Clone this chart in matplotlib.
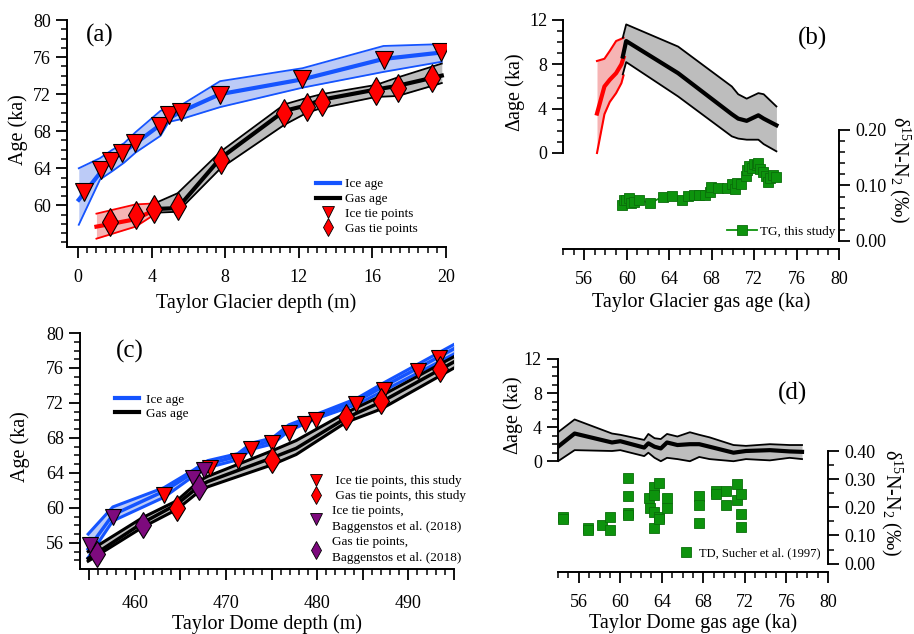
import numpy as np
import matplotlib
matplotlib.use('Agg')
import matplotlib.pyplot as plt
from matplotlib.lines import Line2D

plt.rcParams['font.family'] = ['Liberation Serif', 'DejaVu Serif']
plt.rcParams['mathtext.fontset'] = 'custom'
plt.rcParams['mathtext.rm'] = 'Liberation Serif'
plt.rcParams['mathtext.it'] = 'Liberation Serif:italic'

# ---- (a) Taylor Glacier depth vs age ----
a_ice_depth = [0.04, 1.2, 1.87, 2.5, 3.13, 4.48, 4.93, 5.59, 7.72, 12.2, 16.6, 19.77]
a_ice_age = [60.6, 63.5, 65.0, 65.8, 66.7, 68.7, 69.4, 70.1, 72.0, 73.6, 75.8, 76.5]
a_ice_hi = [64.0, 65.1, 66.0, 66.7, 67.9, 70.2, 70.5, 70.8, 73.4, 74.8, 77.2, 77.4]
a_ice_lo = [57.9, 62.8, 63.7, 64.6, 65.7, 67.5, 69.0, 69.3, 70.6, 72.7, 74.4, 75.5]

a_red_depth = [1.0, 3.13, 4.15]
a_red_age = [57.7, 58.5, 59.5]
a_red_hi = [59.1, 60.1, 60.2]
a_red_lo = [56.4, 57.7, 59.0]

a_gas_depth = [4.15, 5.41, 7.75, 11.22, 12.45, 13.24, 16.2, 17.37, 19.77]
a_gas_age = [59.6, 59.7, 65.1, 70.2, 70.8, 71.4, 72.5, 72.9, 74.0]
a_gas_hi = [60.2, 61.3, 65.8, 70.9, 71.6, 72.0, 73.0, 73.8, 75.3]
a_gas_lo = [59.2, 59.3, 64.0, 68.7, 70.0, 70.5, 71.7, 71.8, 73.2]

a_icetie_depth = [0.34, 1.24, 1.78, 2.41, 3.09, 4.48, 4.93, 5.59, 7.72, 12.18, 16.62, 19.73]
a_icetie_age = [61.4, 63.8, 64.8, 65.6, 66.7, 68.6, 69.7, 70.1, 71.9, 73.6, 75.7, 76.5]
a_gastie_depth = [1.73, 3.13, 4.15, 5.41, 7.75, 11.22, 12.45, 13.24, 16.2, 17.37, 19.26]
a_gastie_age = [58.2, 59.0, 59.6, 59.9, 64.9, 70.0, 70.6, 71.2, 72.3, 72.7, 73.7]

# ---- (b) Taylor Glacier delta age and d15N ----
b_red_gas = [57.2, 57.9, 58.4, 59.0, 59.5, 59.7]
b_red_dage = [3.56, 6.0, 6.6, 7.2, 8.0, 8.6]
b_red_hi = [8.3, 8.5, 9.2, 10.1, 10.3, 10.4]
b_red_lo = [0.0, 3.5, 4.6, 5.4, 6.3, 7.0]

b_gas = [59.63, 59.95, 64.84, 69.9, 70.5, 71.3, 72.4, 72.9, 74.1]
b_dage = [8.7, 10.1, 7.2, 3.5, 3.1, 2.9, 3.4, 3.1, 2.5]
b_dage_hi = [10.4, 11.6, 9.6, 6.0, 5.3, 4.9, 5.4, 5.3, 4.2]
b_dage_lo = [7.1, 8.2, 5.1, 1.5, 1.3, 1.2, 1.2, 0.8, 0.15]

b_d15n_age = [59.57, 59.7, 59.95, 60.2, 60.4, 60.7, 61.2, 62.2, 63.4, 64.3, 65.2, 65.8,
              66.3, 66.8, 67.4, 67.8, 67.9, 68.6, 69.4, 69.9, 70.2, 70.4, 70.8, 71.2,
              71.3, 71.5, 71.8, 72.0, 72.3, 72.4, 72.6, 72.8, 73.1, 73.3, 73.5, 73.8, 74.1]
b_d15n = [0.065, 0.073, 0.074, 0.077, 0.069, 0.071, 0.074, 0.068, 0.080, 0.081, 0.074, 0.081,
          0.082, 0.082, 0.082, 0.089, 0.097, 0.095, 0.095, 0.103, 0.093, 0.105, 0.103, 0.117,
          0.127, 0.135, 0.131, 0.139, 0.137, 0.140, 0.129, 0.125, 0.117, 0.106, 0.113, 0.119, 0.116]

# ---- (c) Taylor Dome depth vs age ----
c_ice_depth = [454.9, 457.6, 463.2, 466.4, 468.0, 471.3, 472.8, 475.1, 476.9, 479.9, 484.3, 487.3, 495.0]
c_ice_age = [55.3, 59.2, 61.9, 64.0, 65.0, 65.9, 67.0, 67.7, 69.1, 70.5, 72.2, 73.9, 78.2]
c_ice_hi = [57.0, 60.1, 62.3, 64.3, 65.4, 66.2, 67.4, 68.0, 69.5, 70.7, 72.5, 74.3, 78.7]
c_ice_lo = [54.3, 58.5, 61.2, 63.6, 64.6, 65.5, 66.7, 67.3, 68.8, 70.2, 71.8, 73.4, 77.6]

c_gas_depth = [454.9, 460.9, 464.6, 467.1, 468.0, 475.0, 477.7, 483.2, 487.0, 495.0]
c_gas_age = [54.2, 58.3, 60.4, 62.5, 63.0, 65.7, 66.8, 70.3, 72.1, 76.7]
c_gas_hi = [55.0, 58.9, 60.8, 63.1, 63.6, 66.5, 67.7, 70.9, 72.8, 77.3]
c_gas_lo = [53.9, 57.8, 59.8, 61.9, 62.4, 64.9, 66.1, 69.8, 71.3, 76.0]

c_icetie_depth = [463.2, 468.2, 471.3, 472.7, 475.1, 476.9, 478.7, 479.9, 484.3, 487.3, 491.1, 493.4]
c_icetie_age = [61.5, 64.6, 65.4, 66.7, 67.4, 68.6, 69.6, 70.1, 71.9, 73.5, 75.7, 77.1]
c_gastie_depth = [464.6, 475.0, 483.2, 487.0, 493.5]
c_gastie_age = [60.0, 65.5, 70.4, 72.2, 75.9]
c_bag_ice_depth = [455.1, 457.6, 466.4, 467.6]
c_bag_ice_age = [55.8, 58.9, 63.4, 64.3]
c_bag_gas_depth = [455.9, 460.9, 467.1]
c_bag_gas_age = [54.7, 58.0, 62.4]

# ---- (d) Taylor Dome delta age and d15N ----
d_gas = [54.0, 55.6, 59.2, 60.0, 62.3, 62.7, 63.3, 63.9, 64.5, 65.5, 66.7, 67.6, 68.6, 70.9, 72.1, 74.4, 76.3, 77.5]
d_dage = [1.7, 3.25, 2.2, 2.35, 1.6, 2.1, 1.7, 1.5, 2.2, 1.9, 2.0, 2.0, 1.7, 1.0, 1.2, 1.3, 1.15, 1.1]
d_dage_hi = [3.4, 4.9, 3.25, 3.1, 2.5, 3.2, 2.7, 2.6, 3.2, 2.9, 3.4, 3.1, 2.8, 1.9, 1.8, 2.0, 1.9, 1.9]
d_dage_lo = [0.0, 1.3, 1.2, 1.3, 0.6, 1.0, 0.4, 0.0, 0.4, 0.25, 0.0, 0.5, 0.25, 0.0, 0.25, 0.1, 0.4, 0.25]

d_d15n_age = [54.45, 54.45, 56.9, 56.9, 58.26, 58.97, 58.97, 60.75, 60.75, 60.75, 60.75,
              62.78, 62.85, 63.2, 63.2, 63.2, 63.27, 63.75, 63.75, 63.75, 64.5, 64.5,
              67.56, 67.56, 67.56, 69.24, 69.24, 70.2, 70.2, 71.2, 71.2, 71.67, 71.67, 71.67]
d_d15n = [0.166, 0.158, 0.128, 0.121, 0.139, 0.166, 0.119, 0.306, 0.240, 0.180, 0.172,
          0.234, 0.198, 0.273, 0.243, 0.184, 0.125, 0.287, 0.166, 0.160, 0.233, 0.198,
          0.240, 0.210, 0.145, 0.258, 0.249, 0.259, 0.210, 0.282, 0.226, 0.247, 0.178, 0.131]

blue = '#1554ff'
blue_fill = '#bccbf7'
red_fill = '#f6b4b4'
grey_fill = '#bdbdbd'
green = '#0d930d'
purple = '#7d0a7d'
TICK = 13
LAB = 14.5
LEG = 9.5


def style(ax):
    for s in ['top', 'right']:
        ax.spines[s].set_visible(False)
    for s in ['left', 'bottom']:
        ax.spines[s].set_linewidth(1.4)
    ax.tick_params(which='major', direction='out', length=8, width=1.3, labelsize=TICK)
    ax.tick_params(which='minor', direction='out', length=4.5, width=1.1)
    ax.tick_params(axis='x', which='major', pad=8)


def right_axis(ax):
    ax2 = ax.twinx()
    for s in ['left', 'top', 'bottom']:
        ax2.spines[s].set_visible(False)
    ax2.spines['right'].set_linewidth(1.4)
    ax2.tick_params(which='major', direction='out', length=8, width=1.3, labelsize=TICK)
    ax2.tick_params(which='minor', direction='out', length=4.5, width=1.1)
    return ax2


def band(ax, x, mid, lo, hi, line_c, fill_c, lw_mid=3, lw_edge=1.3):
    ax.fill_between(x, lo, hi, color=fill_c, lw=0)
    ax.plot(x, hi, color=line_c, lw=lw_edge)
    ax.plot(x, lo, color=line_c, lw=lw_edge)
    ax.plot(x, mid, color=line_c, lw=lw_mid)


fig = plt.figure(figsize=(9.14, 6.34), dpi=100)

# ---------------- (a) ----------------
ax = fig.add_axes([0.0733, 0.6104, 0.4147, 0.358])
style(ax)
band(ax, a_ice_depth, a_ice_age, a_ice_lo, a_ice_hi, blue, blue_fill)
band(ax, a_red_depth, a_red_age, a_red_lo, a_red_hi, 'red', red_fill)
band(ax, a_gas_depth, a_gas_age, a_gas_lo, a_gas_hi, 'black', grey_fill)
ax.plot(a_icetie_depth, a_icetie_age, 'v', ms=13, color='red', mec='black', mew=0.8)
ax.plot(a_gastie_depth, a_gastie_age, 'd', ms=14, color='red', mec='black', mew=0.8)
ax.set_xlim(-0.6, 20)
ax.set_ylim(55.5, 80)
ax.set_xticks(np.arange(0, 21, 4))
ax.set_xticks(np.arange(0, 20.01, 0.5), minor=True)
ax.set_yticks(np.arange(60, 81, 4))
ax.set_yticks(np.arange(56, 80.1, 1), minor=True)
ax.set_xlabel('Taylor Glacier depth (m)', fontsize=LAB, labelpad=5)
ax.set_ylabel('Age (ka)', fontsize=LAB, va='center')
ax.yaxis.set_label_coords(-0.129, 0.515)
ax.text(0.05, 0.93, '(a)', transform=ax.transAxes, fontsize=18, va='center')
h = [Line2D([], [], color=blue, lw=3),
     Line2D([], [], color='black', lw=3),
     Line2D([], [], ls='none', marker='v', ms=8, color='red', mec='black', mew=0.6),
     Line2D([], [], ls='none', marker='d', ms=9, color='red', mec='black', mew=0.6)]
ax.legend(h, ['Ice age', 'Gas age', 'Ice tie points', 'Gas tie points'], loc='lower right',
          bbox_to_anchor=(0.94, 0.03), borderaxespad=0, frameon=False, fontsize=LEG,
          handlelength=1.8, labelspacing=0.2, handletextpad=0.4)

# ---------------- (b) ----------------
ax = fig.add_axes([0.616, 0.6073, 0.302, 0.3612])
style(ax)
band(ax, b_red_gas, b_red_dage, b_red_lo, b_red_hi, 'red', red_fill, lw_edge=1.5)
band(ax, b_gas, b_dage, b_dage_lo, b_dage_hi, 'black', grey_fill, lw_edge=1.3)
ax.set_xlim(54, 80)
ax.set_ylim(-8.66, 12)
ax.spines['left'].set_bounds(0, 12)
ax.set_xticks(np.arange(56, 81, 4))
ax.set_xticks(np.arange(54, 80.1, 1), minor=True)
ax.set_yticks([0, 4, 8, 12])
ax.set_yticks(np.arange(0, 12.1, 1), minor=True)
ax.set_xlabel('Taylor Glacier gas age (ka)', fontsize=LAB, labelpad=3)
ax.set_ylabel('$\\Delta$age (ka)', fontsize=LAB, va='center')
ax.yaxis.set_label_coords(-0.174, 0.686)
ax.text(0.902, 0.921, '(b)', transform=ax.transAxes, fontsize=18, va='center', ha='center')
ax2 = right_axis(ax)
ax2.plot(b_d15n_age, b_d15n, '-s', color=green, ms=6.5, mec='#0a6e0a', mew=0.6, lw=1.3,
         label='TG, this study')
ax2.set_ylim(-0.0144, 0.398)
ax2.spines['right'].set_bounds(0, 0.2)
ax2.set_yticks([0, 0.1, 0.2])
ax2.set_yticklabels(['0.00', '0.10', '0.20'])
ax2.set_yticks(np.arange(0, 0.201, 0.02), minor=True)
ax2.set_ylabel('δ$^{15}$N-N$_2$ (‰)', fontsize=LAB, rotation=270, va='center')
ax2.yaxis.set_label_coords(1.221, 0.345)
ax2.legend(loc='lower right', bbox_to_anchor=(1.004, 0.026), borderaxespad=0, frameon=False,
           fontsize=LEG, handlelength=2.3, handletextpad=0.2)

# ---------------- (c) ----------------
ax = fig.add_axes([0.0875, 0.1025, 0.4092, 0.3722])
style(ax)
band(ax, c_ice_depth, c_ice_age, c_ice_lo, c_ice_hi, blue, blue_fill, lw_mid=2.5, lw_edge=2.2)
band(ax, c_gas_depth, c_gas_age, c_gas_lo, c_gas_hi, 'black', grey_fill, lw_mid=2.5, lw_edge=2.2)
ax.plot(c_icetie_depth, c_icetie_age, 'v', ms=12, color='red', mec='black', mew=0.8)
ax.plot(c_gastie_depth, c_gastie_age, 'd', ms=13, color='red', mec='black', mew=0.8)
ax.plot(c_bag_ice_depth, c_bag_ice_age, 'v', ms=12, color=purple, mec='black', mew=0.8)
ax.plot(c_bag_gas_depth, c_bag_gas_age, 'd', ms=13, color=purple, mec='black', mew=0.8)
ax.set_xlim(454, 495)
ax.set_ylim(53, 80)
c_xt = np.arange(455, 496, 5)
ax.set_xticks(c_xt)
ax.set_xticklabels([str(v) if v % 10 == 0 else '' for v in c_xt])
ax.set_xticks(np.arange(455, 495.1, 1), minor=True)
ax.tick_params(axis='x', which='major', pad=11)
ax.set_yticks(np.arange(56, 81, 4))
ax.set_yticks(np.arange(54, 80.1, 1), minor=True)
ax.set_xlabel('Taylor Dome depth (m)', fontsize=LAB, labelpad=1)
ax.set_ylabel('Age (ka)', fontsize=LAB, va='center')
ax.yaxis.set_label_coords(-0.16, 0.517)
ax.text(0.134, 0.92, '(c)', transform=ax.transAxes, fontsize=18, va='center', ha='center')
h1 = [Line2D([], [], color=blue, lw=3), Line2D([], [], color='black', lw=3)]
leg = ax.legend(h1, ['Ice age', 'Gas age'], loc='upper left', bbox_to_anchor=(0.08, 0.767),
                borderaxespad=0, frameon=False, fontsize=LEG, handlelength=1.8,
                labelspacing=0.15, handletextpad=0.5)
ax.add_artist(leg)
h2 = [Line2D([], [], ls='none', marker='v', ms=8, color='red', mec='black', mew=0.6),
      Line2D([], [], ls='none', marker='d', ms=9, color='red', mec='black', mew=0.6),
      Line2D([], [], ls='none', marker='v', ms=8, color=purple, mec='black', mew=0.6),
      Line2D([], [], ls='none', marker='d', ms=9, color=purple, mec='black', mew=0.6)]
leg2 = ax.legend(h2, [' Ice tie points, this study', ' Gas tie points, this study',
                      'Ice tie points,\nBaggenstos et al. (2018)',
                      'Gas tie points,\nBaggenstos et al. (2018)'],
                 loc='lower right', bbox_to_anchor=(1.045, 0.0), borderaxespad=0, frameon=False,
                 fontsize=LEG, handlelength=1.2, labelspacing=0.2, handletextpad=0.6)
for t in leg2.get_texts():
    t.set_linespacing(1.45)

# ---------------- (d) ----------------
ax = fig.add_axes([0.6105, 0.0978, 0.2954, 0.336])
style(ax)
band(ax, d_gas, d_dage, d_dage_lo, d_dage_hi, 'black', grey_fill)
ax.set_xlim(54, 80)
ax.set_ylim(-13.0, 12)
ax.spines['left'].set_bounds(0, 12)
ax.set_xticks(np.arange(56, 81, 4))
ax.set_xticks(np.arange(54, 80.1, 1), minor=True)
ax.set_yticks([0, 4, 8, 12])
ax.set_yticks(np.arange(0, 12.1, 1), minor=True)
ax.set_xlabel('Taylor Dome gas age (ka)', fontsize=LAB, labelpad=1.5)
ax.set_ylabel('$\\Delta$age (ka)', fontsize=LAB, va='center')
ax.yaxis.set_label_coords(-0.167, 0.737)
ax.text(0.87, 0.84, '(d)', transform=ax.transAxes, fontsize=18, va='center', ha='center')
ax2 = right_axis(ax)
ax2.plot(d_d15n_age, d_d15n, 's', color=green, ms=7, mec='#0a6e0a', mew=0.6,
         label='TD, Sucher et al. (1997)')
ax2.set_ylim(-0.03, 0.728)
ax2.spines['right'].set_bounds(0, 0.4)
ax2.set_yticks([0, 0.1, 0.2, 0.3, 0.4])
ax2.set_yticklabels(['0.00', '0.10', '0.20', '0.30', '0.40'])
ax2.set_yticks(np.arange(0, 0.401, 0.05), minor=True)
ax2.set_ylabel('δ$^{15}$N-N$_2$ (‰)', fontsize=LAB, rotation=270, va='center')
ax2.yaxis.set_label_coords(1.237, 0.324)
ax2.legend(loc='lower right', bbox_to_anchor=(0.989, 0.035), borderaxespad=0, frameon=False,
           fontsize=9, handlelength=1.0, handletextpad=0.5)

fig.savefig('out.png', dpi=100)
